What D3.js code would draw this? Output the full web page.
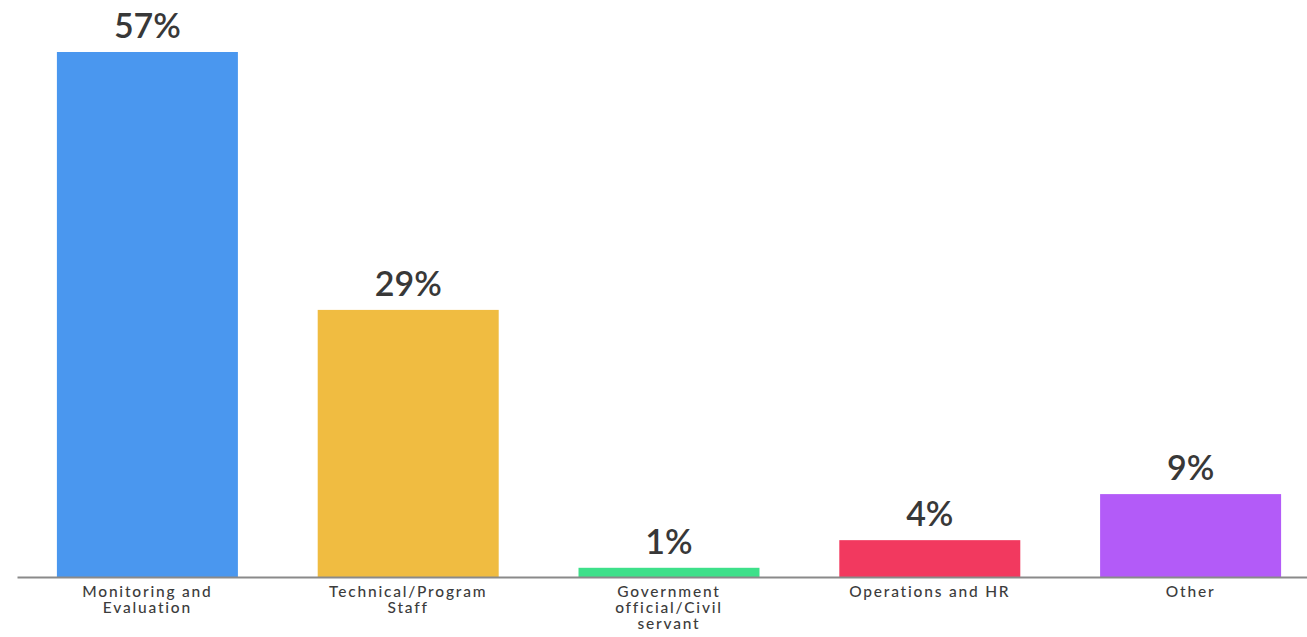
<!DOCTYPE html>
<html><head><meta charset="utf-8">
<script src="https://cdn.jsdelivr.net/npm/d3@7/dist/d3.min.js"></script>
<style>body{margin:0;background:#fff;}svg{display:block;}</style>
</head><body><svg id="c" width="1307" height="637"></svg>
<script>
const categories = ["Monitoring and|Evaluation", "Technical/Program|Staff", "Government|official/Civil|servant", "Operations and HR", "Other"];
const values = [57, 29, 1, 4, 9];
const colors = ["#4a97ef", "#f0bc41", "#3ee08a", "#f2395f", "#b35bf8"];

const svg = d3.select("#c");
const baseY = 577, topY = 52;
const x = d3.scaleBand().domain(categories).range([17, 1321]).paddingInner(0.306).paddingOuter(0.153);
const y = d3.scaleLinear().domain([0, 57]).range([baseY, topY]);

svg.selectAll("rect.bar").data(values).join("rect")
  .attr("x", (d,i) => x(categories[i]))
  .attr("y", d => y(d))
  .attr("width", x.bandwidth())
  .attr("height", d => baseY - y(d))
  .attr("fill", (d,i) => colors[i]);

svg.selectAll("text.val").data(values).join("text")
  .attr("x", (d,i) => x(categories[i]) + x.bandwidth()/2)
  .attr("y", d => y(d) - 14)
  .attr("text-anchor", "middle")
  .attr("font-family", "Lato, sans-serif")
  .attr("font-size", 34)
  .attr("font-weight", 600)
  .attr("fill", "#383838")
  .text(d => d + "%");

const axis = d3.axisBottom(x).tickSize(0).tickPadding(0).tickFormat(() => "");
const g = svg.append("g").attr("transform", `translate(0,${baseY})`).call(axis);
g.select(".domain").attr("stroke", "#8a8a8a").attr("stroke-width", 2);
g.selectAll(".tick text").remove();

g.selectAll(".tick").each(function(d){
  const t = d3.select(this).append("text")
   .attr("text-anchor", "middle")
   .attr("font-family", "Lato, sans-serif").attr("font-size", 15.5)
   .attr("fill", "#3c3c3c").attr("letter-spacing", 1.8)
   .attr("font-weight", 500);
  d.split("|").forEach((line, i) => {
    t.append("tspan").attr("x", 0).attr("y", 20 + i*16).text(line);
  });
});
</script></body></html>
